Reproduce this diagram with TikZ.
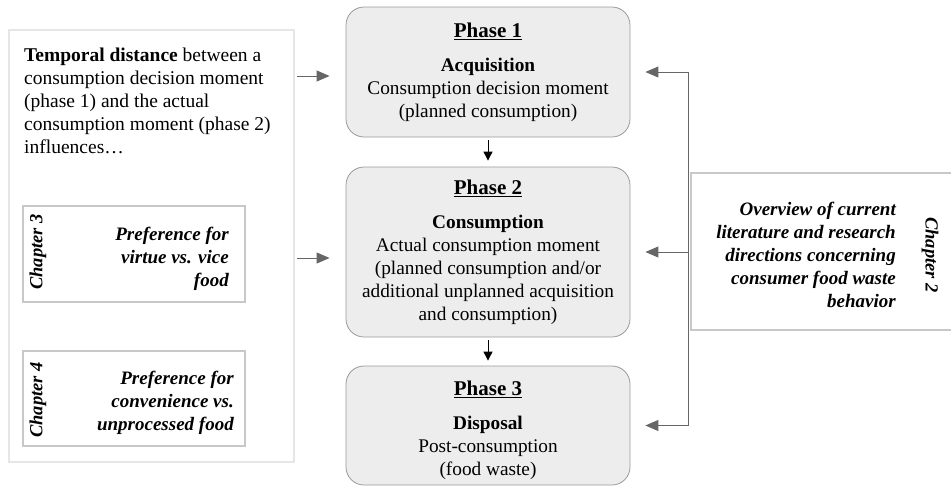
\documentclass[tikz,border=0pt]{standalone}
\usepackage{fontspec}
\setmainfont{Liberation Serif}
\usetikzlibrary{arrows.meta}
\definecolor{phasefill}{HTML}{EDEDED}
\definecolor{phaseline}{HTML}{9A9A9A}
\definecolor{frameline}{HTML}{E6E6E6}
\definecolor{chapline}{HTML}{C8C8C8}
\definecolor{arrowgray}{HTML}{666666}
\newcommand{\phasehead}[1]{{\fontsize{21}{23}\selectfont\bfseries\underline{#1}}\\[11pt]}

\begin{document}
\begin{tikzpicture}[x=1pt,y=-1pt]
    %
    % `phase' is used for the three rounded grey boxes.
    % `frame' and `chapbox' are the light outlines on both sides.
    % `side' and `down' are the two kinds of arrows.
    \tikzstyle{phase} = [draw=phaseline,fill=phasefill,rounded corners=18pt,minimum width=284pt,align=center,inner sep=0pt,line width=0.8pt,font=\fontsize{19.3}{23}\selectfont]
    \tikzstyle{frame} = [draw=frameline,line width=1.6pt,inner sep=0pt]
    \tikzstyle{chapbox} = [draw=chapline,line width=1.3pt,minimum width=222pt,inner sep=0pt]
    \tikzstyle{chaptext} = [font=\fontsize{19}{23}\selectfont\bfseries\itshape,align=right,inner sep=0pt]
    \tikzstyle{chaplabel} = [font=\fontsize{18.5}{22}\selectfont\bfseries\itshape,inner sep=0pt]
    \tikzstyle{side} = [draw=arrowgray,line width=0.9pt,-{Triangle[length=13pt,width=11pt]}]
    \tikzstyle{down} = [draw=black,line width=0.9pt,-{Triangle[length=9pt,width=9pt]}]
    %
    \useasboundingbox (0,0) rectangle (951,488);
    %
    % Phases
    \node[phase,minimum height=130pt] (ph1) at (488,72) {\phasehead{Phase 1}\textbf{Acquisition}\\Consumption decision moment\\(planned consumption)};
    \node[phase,minimum height=170pt] (ph2) at (488,252) {\phasehead{Phase 2}\textbf{Consumption}\\Actual consumption moment\\(planned consumption and/or\\additional unplanned acquisition\\and consumption)};
    \node[phase,minimum height=119pt] (ph3) at (488,425.5) {\rule{0pt}{25pt}\phasehead{Phase 3}\textbf{Disposal}\\Post-consumption\\(food waste)};
    \draw[down,shorten <=3pt,shorten >=6pt] (ph1) -- (ph2);
    \draw[down,shorten <=3pt,shorten >=5pt] (ph2) -- (ph3);
    %
    % Left frame
    \node[frame,minimum width=285pt,minimum height=432pt] (left) at (151.5,246) {};
    \node[anchor=west,align=left,inner sep=0pt,font=\fontsize{19.5}{23}\selectfont] (tdist) at (24,101) {\textbf{Temporal distance} between a\\consumption decision moment\\(phase 1) and the actual\\consumption moment (phase 2)\\influences…};
    %
    % Chapter 3
    \node[chapbox,minimum height=96pt] (ch3) at (134,254) {};
    \node[chaptext,anchor=east] (pref3) at (229,259) {Preference for\\virtue vs. vice\\food};
    \node[chaplabel,rotate=90] (lab3) at (38,252) {Chapter 3};
    %
    % Chapter 4
    \node[chapbox,minimum height=95pt] (ch4) at (134,398.5) {};
    \node[chaptext,anchor=east] (pref4) at (234,403) {Preference for\\convenience vs.\\unprocessed food};
    \node[chaplabel,rotate=90] (lab4) at (38,400) {Chapter 4};
    %
    % Arrows from the left
    \draw[side,shorten <=2pt,shorten >=16pt] ([yshift=-4pt]left.east |- ph1.west) -- ([yshift=-4pt]ph1.west);
    \draw[side,shorten <=2pt,shorten >=16pt] ([yshift=-6pt]left.east |- ph2.west) -- ([yshift=-6pt]ph2.west);
    %
    % Chapter 2
    \node[draw=chapline,line width=1.3pt,inner sep=0pt,minimum width=269pt,minimum height=157pt] (ch2) at (825.5,251.5) {};
    \node[chaptext,anchor=east] (over) at (896,255) {Overview of current\\literature and research\\directions concerning\\consumer food waste\\behavior};
    \node[chaplabel,rotate=-90] (lab2) at (930,255) {Chapter 2};
    %
    % Arrows from the right
    \draw[arrowgray,line width=0.9pt] ([xshift=-2pt]ch2.west |- ph1.east) -- ([xshift=-2pt]ch2.west |- ph3.east);
    \draw[side,shorten >=15pt] ([xshift=-2pt]ch2.west |- ph1.east) -- (ph1.east);
    \draw[side,shorten >=15pt] ([xshift=-2pt]ch2.west |- ph2.east) -- (ph2.east);
    \draw[side,shorten >=15pt] ([xshift=-2pt]ch2.west |- ph3.east) -- (ph3.east);
    %
\end{tikzpicture}
\end{document}
